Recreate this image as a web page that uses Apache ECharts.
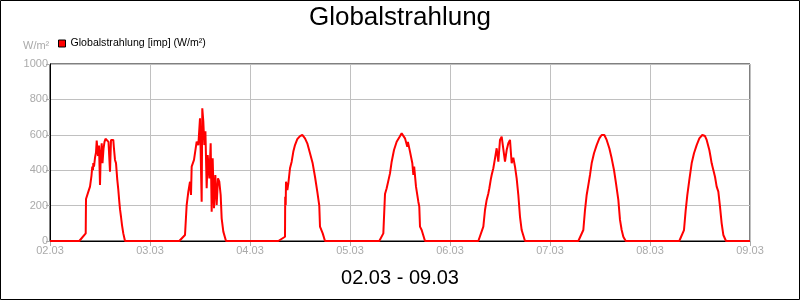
<!DOCTYPE html>
<html>
<head>
<meta charset="utf-8">
<script src="https://cdn.jsdelivr.net/npm/echarts@6/dist/echarts.min.js"></script>
<style>html,body{margin:0;padding:0;background:#fff}#c{width:800px;height:300px}</style>
</head>
<body>
<div id="c"></div>
<script>
// tick labels
const dayLabels = ['02.03','03.03','04.03','05.03','06.03','07.03','08.03','09.03'];
const seriesName = 'Globalstrahlung [imp] (W/m²)';
// per day: [hour of day, W/m²]
const day1 = [[7.03,0],[8.57,43],[8.64,237],[9.0,240],[9.36,290],[9.6,307],[9.96,370],[10.15,420],[10.32,400],[10.39,440],[10.56,420],[10.8,470],[11.04,500],[11.21,567],[11.4,560],[11.52,480],[11.76,540],[12.0,316],[12.17,480],[12.41,552],[12.6,440],[12.84,520],[13.08,560],[13.32,578],[13.61,576],[13.8,580],[14.04,560],[14.4,392],[14.64,571],[14.88,575],[15.19,571],[15.36,520],[15.6,458],[15.84,440],[16.15,345],[16.39,290],[16.63,222],[16.8,180],[17.04,137],[17.28,90],[17.59,43],[18.0,0]];
const day2 = [[7.03,0],[8.4,34],[8.8,203],[9.2,279],[9.6,335],[9.84,260],[10.0,420],[10.56,458],[11.2,561],[11.6,542],[12.0,693],[12.4,222],[12.55,750],[12.8,674],[13.04,542],[13.3,620],[13.6,298],[13.85,486],[14.24,354],[14.56,552],[14.8,166],[15.04,467],[15.36,185],[15.68,373],[16.0,203],[16.32,354],[16.63,335],[16.96,260],[17.2,128],[17.6,53],[18.24,0]];
const day3 = [[6.8,0],[8.4,24],[8.45,250],[8.57,203],[8.64,335],[8.96,288],[9.2,326],[9.6,411],[10.0,448],[10.4,505],[10.8,542],[11.35,575],[12.0,593],[12.55,599],[13.2,580],[13.75,552],[14.4,496],[15.04,439],[15.6,363],[16.15,279],[16.63,198],[16.8,81],[17.04,72],[17.45,43],[18.0,0]];
const day4 = [[7.03,0],[8.0,43],[8.4,265],[8.8,298],[9.2,307],[9.6,382],[10.0,448],[10.56,514],[11.2,561],[11.84,586],[12.4,608],[12.8,599],[13.2,580],[13.75,533],[13.9,560],[14.4,505],[14.96,439],[15.2,373],[15.4,420],[15.84,307],[16.4,222],[16.63,194],[16.8,81],[17.2,62],[18.0,0]];
const day5 = [[6.8,0],[8.0,81],[8.4,175],[8.8,232],[9.2,269],[9.44,298],[9.77,345],[10.0,373],[10.4,411],[10.8,467],[11.2,524],[11.6,448],[12.0,571],[12.4,590],[12.8,580],[13.2,448],[13.6,514],[14.0,552],[14.4,571],[14.8,439],[15.2,470],[15.6,420],[16.0,354],[16.4,260],[16.8,137],[17.2,62],[18.0,0]];
const day6 = [[6.8,0],[8.0,62],[8.4,175],[8.8,260],[9.2,316],[9.6,373],[10.0,439],[10.56,496],[11.2,542],[11.84,580],[12.4,599],[13.04,599],[13.6,571],[14.24,524],[14.8,467],[15.36,401],[15.84,326],[16.4,232],[16.8,119],[17.2,62],[17.6,24],[18.17,0]];
const day7 = [[7.03,0],[8.16,62],[8.57,175],[8.96,260],[9.44,345],[10.0,439],[10.56,496],[11.2,542],[11.84,580],[12.55,599],[13.2,593],[13.6,571],[14.24,514],[14.5,480],[14.8,439],[15.2,401],[15.6,363],[16.0,307],[16.4,279],[16.8,194],[17.2,100],[17.6,34],[18.24,0]];
const days = [day1, day2, day3, day4, day5, day6, day7];

const data = [[0, 0]];
days.forEach((d, i) => d.forEach(p => data.push([p[0] + i * 24, p[1]])));
data.push([168, 0]);

const chart = echarts.init(document.getElementById('c'), null, {renderer: 'canvas'});
const grey = '#aaaaaa';
chart.setOption({
  animation: false,
  backgroundColor: '#fff',
  textStyle: {fontFamily: 'Liberation Sans, Arial, sans-serif'},
  title: {
    text: 'Globalstrahlung', left: 'center', top: 5, padding: 0,
    textStyle: {fontSize: 26, fontWeight: 'normal', color: '#000', fontFamily: 'Liberation Sans'}
  },
  legend: {
    left: 58, top: 38, padding: 0, icon: 'rect', itemWidth: 7, itemHeight: 7, itemGap: 4,
    itemStyle: {borderColor: '#000', borderWidth: 1},
    textStyle: {fontSize: 10.6, color: '#000', fontFamily: 'Liberation Sans'},
    data: [seriesName]
  },
  grid: {left: 50, right: 50, top: 64, bottom: 59, show: true, borderColor: '#000', borderWidth: 1},
  xAxis: {
    type: 'value', min: 0, max: 168, interval: 24,
    axisLine: {lineStyle: {color: '#000', width: 1}},
    axisTick: {show: true, length: 5, lineStyle: {color: grey}},
    axisLabel: {color: grey, fontSize: 11, margin: 4, formatter: v => dayLabels[Math.round(v / 24)]},
    splitLine: {show: true, lineStyle: {color: '#c0c0c0'}}
  },
  yAxis: {
    type: 'value', min: 0, max: 1000, interval: 200,
    axisLine: {show: true, lineStyle: {color: '#000', width: 1}},
    axisTick: {show: true, length: 4, lineStyle: {color: grey}},
    axisLabel: {color: grey, fontSize: 11, margin: 2, formatter: v => String(v)},
    splitLine: {show: true, lineStyle: {color: '#c0c0c0'}}
  },
  graphic: [
    {type: 'rect', shape: {x: 0.5, y: 0.5, width: 799, height: 299}, style: {fill: 'none', stroke: '#000', lineWidth: 1}, silent: true},
    {type: 'text', left: 23, top: 40, style: {text: 'W/m²', fill: grey, fontSize: 11, fontFamily: 'Liberation Sans'}},
    {type: 'text', left: 'center', top: 268, style: {text: '02.03 - 09.03', fill: '#000', fontSize: 20, fontFamily: 'Liberation Sans'}}
  ],
  series: [{
    name: seriesName, type: 'line', data: data, showSymbol: false, symbol: 'none',
    lineStyle: {color: '#ff0000', width: 2}, itemStyle: {color: '#ff0000'}
  }]
});
</script>
</body>
</html>
